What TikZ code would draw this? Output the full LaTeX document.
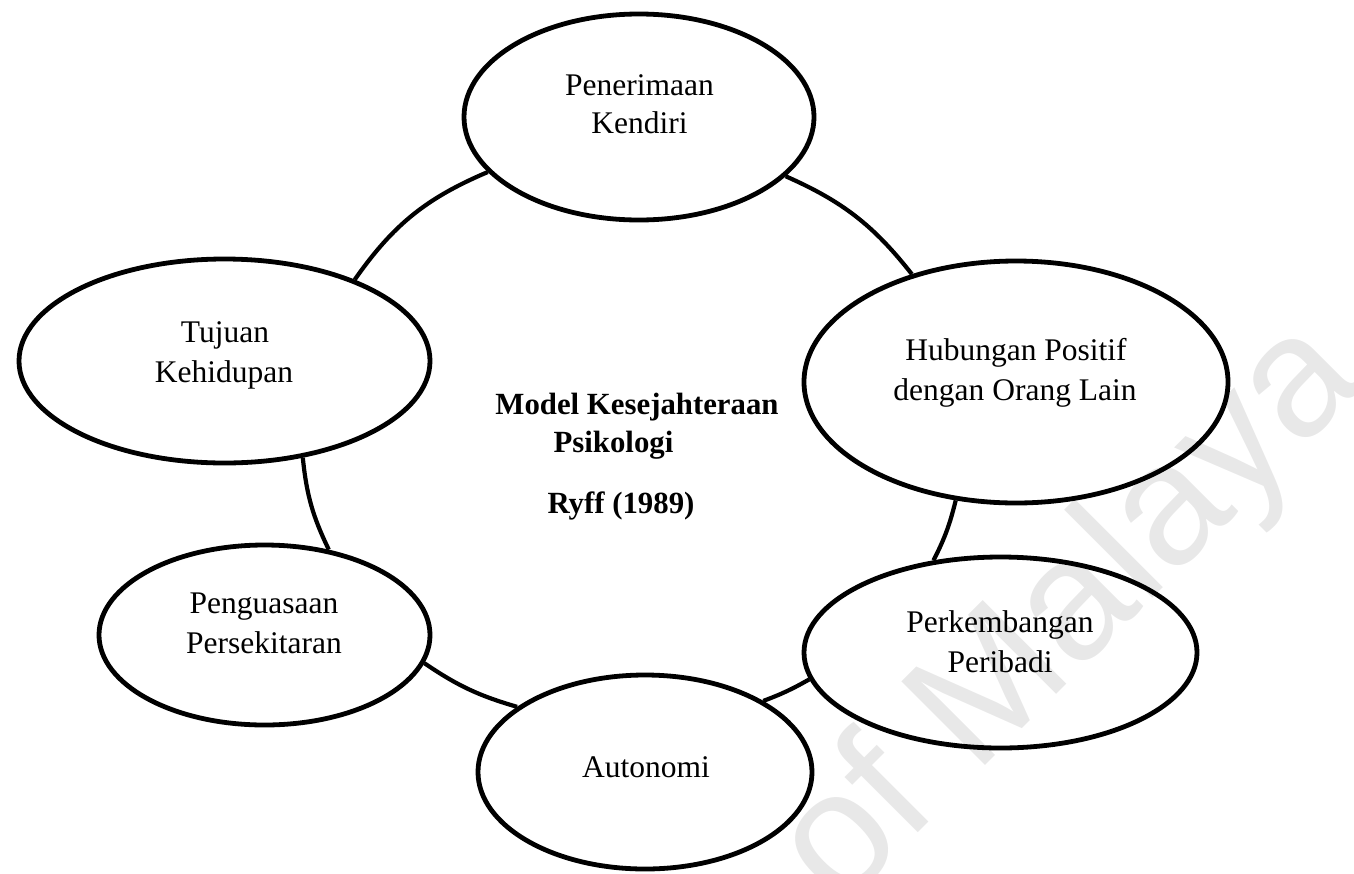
\documentclass[tikz,border=0pt]{standalone}
\usepackage{fontspec}
\setmainfont{Liberation Serif}
\newfontfamily\wmfont{Liberation Sans}
\usetikzlibrary{shapes.geometric}

\tikzset{
  bubble/.style={draw, ellipse, line width=4.8pt, inner sep=0pt},
  link/.style={line width=4.2pt},
  lbl/.style={anchor=base, inner sep=0pt, font=\fontsize{31.5}{40}\selectfont},
  hdr/.style={lbl, font=\fontsize{30.8}{40}\selectfont\bfseries},
  wmark/.style={anchor=base west, inner sep=0pt, rotate=45, text=black!9,
                font=\wmfont\fontsize{172}{172}\selectfont},
}

\begin{document}
\begin{tikzpicture}[x=1pt, y=-1pt]
  \useasboundingbox (0,0) rectangle (1354,873);
  \clip (0,0) rectangle (1354,873);

  % faint background stamp
  \node[wmark] (stamp) at (840,911) {of Malaya};

  % the six dimensions
  \node[bubble, minimum width=350pt, minimum height=206pt] (pk) at (639,117) {};
  \node[bubble, minimum width=411pt, minimum height=204pt] (tk) at (224.5,361) {};
  \node[bubble, minimum width=424pt, minimum height=242pt] (hp) at (1016,382) {};
  \node[bubble, minimum width=393pt, minimum height=191pt] (pb) at (1000.5,652.5) {};
  \node[bubble, minimum width=334pt, minimum height=194pt] (au) at (645,772) {};
  \node[bubble, minimum width=331pt, minimum height=180pt] (pp) at (264.5,635) {};

  % labels
  \node[lbl] (pk-1) at (639.5,95) {Penerimaan};
  \node[lbl] (pk-2) at (639.5,133) {Kendiri};
  \node[lbl] (tk-1) at (225,342) {Tujuan};
  \node[lbl] (tk-2) at (224,382) {Kehidupan};
  \node[lbl] (hp-1) at (1016,360) {Hubungan Positif};
  \node[lbl] (hp-2) at (1015,400) {dengan Orang Lain};
  \node[lbl] (pb-1) at (1000,632) {Perkembangan};
  \node[lbl] (pb-2) at (1000,672) {Peribadi};
  \node[lbl] (au-1) at (646,777) {Autonomi};
  \node[lbl] (pp-1) at (264,613) {Penguasaan};
  \node[lbl] (pp-2) at (264,653) {Persekitaran};

  % central title
  \node[hdr] (m-1) at (637,414) {Model Kesejahteraan};
  \node[hdr] (m-2) at (613.5,452) {Psikologi};
  \node[hdr] (m-3) at (621,513) {Ryff (1989)};

  % ring of links between neighbouring dimensions
  \draw[link] (pk.200.3) to[bend right=16] (tk.32.2);
  \draw[link] (tk.309.3) to[bend right=10] (pp.53.4);
  \draw[link] (pp.350.5) to[bend right=9] (au.153.4);
  \draw[link] (au.31) to[bend right=4.5] (pb.188.8);
  \draw[link] (pb.126.5) to[bend right=6.6] (hp.243);
  \draw[link] (hp.134.7) to[bend right=14] (pk.338.5);
\end{tikzpicture}
\end{document}
